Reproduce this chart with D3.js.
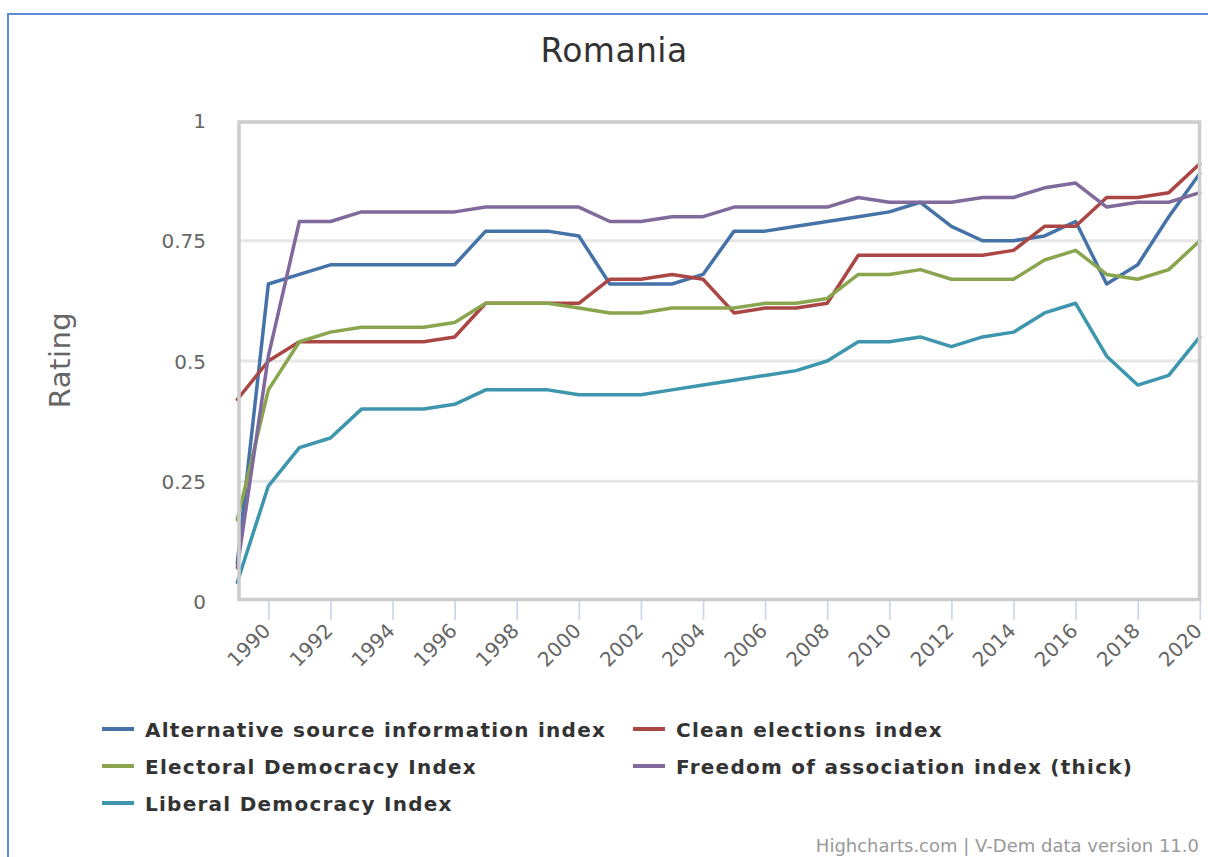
<!DOCTYPE html>
<html>
<head>
<meta charset="utf-8">
<script src="https://cdn.jsdelivr.net/npm/d3@7"></script>
<style>
  html, body { margin: 0; padding: 0; background: #fff; }
  svg { display: block; font-family: "DejaVu Sans", sans-serif; }
</style>
</head>
<body>
<svg id="chart" width="1208" height="857"></svg>
<script>
const years = d3.range(1989, 2021);
const seriesNames = [
  "Alternative source information index",
  "Clean elections index",
  "Electoral Democracy Index",
  "Freedom of association index (thick)",
  "Liberal Democracy Index"
];
const seriesColors = ["#4572A7", "#AA4643", "#89A54E", "#80699B", "#3D96AE"];
const altSource = [0.08, 0.66, 0.68, 0.70, 0.70, 0.70, 0.70, 0.70, 0.77, 0.77, 0.77, 0.76, 0.66, 0.66, 0.66, 0.68, 0.77, 0.77, 0.78, 0.79, 0.80, 0.81, 0.83, 0.78, 0.75, 0.75, 0.76, 0.79, 0.66, 0.70, 0.80, 0.89];
const cleanElections = [0.42, 0.50, 0.54, 0.54, 0.54, 0.54, 0.54, 0.55, 0.62, 0.62, 0.62, 0.62, 0.67, 0.67, 0.68, 0.67, 0.60, 0.61, 0.61, 0.62, 0.72, 0.72, 0.72, 0.72, 0.72, 0.73, 0.78, 0.78, 0.84, 0.84, 0.85, 0.91];
const electoralDem = [0.17, 0.44, 0.54, 0.56, 0.57, 0.57, 0.57, 0.58, 0.62, 0.62, 0.62, 0.61, 0.60, 0.60, 0.61, 0.61, 0.61, 0.62, 0.62, 0.63, 0.68, 0.68, 0.69, 0.67, 0.67, 0.67, 0.71, 0.73, 0.68, 0.67, 0.69, 0.75];
const freedomAssoc = [0.07, 0.51, 0.79, 0.79, 0.81, 0.81, 0.81, 0.81, 0.82, 0.82, 0.82, 0.82, 0.79, 0.79, 0.80, 0.80, 0.82, 0.82, 0.82, 0.82, 0.84, 0.83, 0.83, 0.83, 0.84, 0.84, 0.86, 0.87, 0.82, 0.83, 0.83, 0.85];
const liberalDem = [0.04, 0.24, 0.32, 0.34, 0.40, 0.40, 0.40, 0.41, 0.44, 0.44, 0.44, 0.43, 0.43, 0.43, 0.44, 0.45, 0.46, 0.47, 0.48, 0.50, 0.54, 0.54, 0.55, 0.53, 0.55, 0.56, 0.60, 0.62, 0.51, 0.45, 0.47, 0.55];
const xTicks = [1990, 1992, 1994, 1996, 1998, 2000, 2002, 2004, 2006, 2008, 2010, 2012, 2014, 2016, 2018, 2020];
const yTicks = [0, 0.25, 0.5, 0.75, 1];
const titleText = "Romania";
const yTitle = "Rating";
const creditText = "Highcharts.com | V-Dem data version 11.0";

const allSeries = [altSource, cleanElections, electoralDem, freedomAssoc, liberalDem];

const svg = d3.select("#chart");

// outer container border (only top/left visible)
svg.append("rect")
  .attr("x", 8).attr("y", 14).attr("width", 1260).attr("height", 900)
  .attr("fill", "none").attr("stroke", "#5b8bd1").attr("stroke-width", 2);

const x = d3.scaleLinear().domain([1989, 2020]).range([237.3, 1199.8]);
const y = d3.scaleLinear().domain([0, 1]).range([601.5, 120.5]);

// title
svg.append("text").attr("x", 614).attr("y", 62).attr("text-anchor", "middle")
  .attr("fill", "#333").attr("font-size", 33).attr("letter-spacing", 0.4).text(titleText);

// gridlines
svg.append("g").selectAll("line").data(yTicks.filter(d => d > 0 && d < 1)).join("line")
  .attr("x1", x(1989)).attr("x2", x(2020))
  .attr("y1", d => y(d)).attr("y2", d => y(d))
  .attr("stroke", "#e6e6e6").attr("stroke-width", 3);

// x axis ticks and labels
const xAxis = d3.axisBottom(x).tickValues(xTicks).tickSize(19).tickPadding(6).tickFormat(d3.format("d"));
const gx = svg.append("g").attr("transform", "translate(0,601)").call(xAxis);
gx.select(".domain").remove();
gx.selectAll(".tick line").attr("stroke", "#ccd6eb").attr("stroke-width", 1.7);
gx.selectAll(".tick text")
  .attr("fill", "#666").attr("font-size", 20).attr("font-family", "DejaVu Sans, sans-serif")
  .attr("text-anchor", "end").attr("dy", null).attr("y", null)
  .attr("transform", "translate(3,31) rotate(-45)");

// y axis labels
const yAxis = d3.axisLeft(y).tickValues(yTicks).tickSize(0).tickPadding(33).tickFormat(d => String(d));
const gy = svg.append("g").attr("transform", "translate(239,0)").call(yAxis);
gy.select(".domain").remove();
gy.selectAll(".tick text").attr("fill", "#666").attr("font-size", 20)
  .attr("font-family", "DejaVu Sans, sans-serif").attr("dy", "0.35em");

// y title
svg.append("text").attr("transform", "translate(70,360) rotate(-90)")
  .attr("text-anchor", "middle").attr("fill", "#666").attr("font-size", 29).attr("letter-spacing", 0.5).text(yTitle);

// series lines
const line = d3.line().x((d, i) => x(years[i])).y(d => y(d));
svg.append("g").selectAll("path").data(allSeries).join("path")
  .attr("d", d => line(d))
  .attr("fill", "none")
  .attr("stroke", (d, i) => seriesColors[i])
  .attr("stroke-width", 3.5)
  .attr("stroke-linejoin", "round").attr("stroke-linecap", "round");

// plot frame
svg.append("rect").attr("x", 239).attr("y", 122).attr("width", 960.5).attr("height", 477.5)
  .attr("fill", "none").attr("stroke", "#ccc").attr("stroke-width", 3.5);

// legend
const legendPos = [[102, 729], [633, 729], [102, 766], [633, 766], [102, 803]];
const lg = svg.append("g").selectAll("g").data(seriesNames).join("g")
  .attr("transform", (d, i) => `translate(${legendPos[i][0]},${legendPos[i][1]})`);
lg.append("line").attr("x1", 0).attr("x2", 32).attr("y1", 0).attr("y2", 0)
  .attr("stroke", (d, i) => seriesColors[i]).attr("stroke-width", 4);
lg.append("text").attr("x", 43).attr("y", 7.5).attr("fill", "#333")
  .attr("font-size", 20).attr("font-weight", "bold").attr("letter-spacing", 1.25).text(d => d);

// credits
svg.append("text").attr("x", 1199).attr("y", 852).attr("text-anchor", "end")
  .attr("fill", "#999").attr("font-size", 18).text(creditText);
</script>
</body>
</html>
